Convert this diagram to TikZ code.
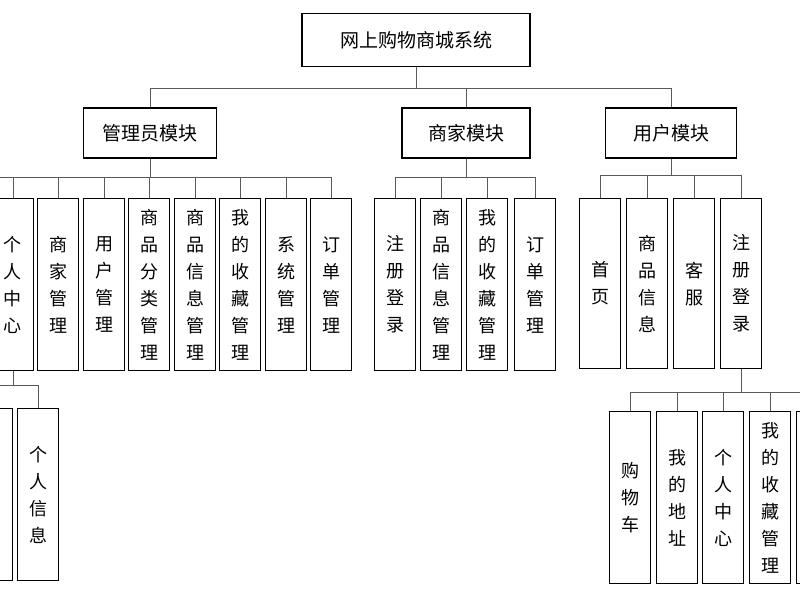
\documentclass[tikz,border=0pt]{standalone}
\usepackage{fontspec}
\newfontfamily\cjk{Noto Sans CJK SC}
\usetikzlibrary{positioning}
\begin{document}
\begin{tikzpicture}[x=1pt, y=-1pt,
    top/.style={rectangle, draw, line width=1.2pt, minimum width=130pt, minimum height=50pt, font=\cjk\fontsize{19}{22}\selectfont},
    leaf/.style={rectangle, draw, line width=1.2pt, minimum width=41pt, minimum height=172pt, anchor=north, align=center, font=\cjk\fontsize{18}{27}\selectfont},
    link/.style={draw=gray!70!black, line width=0.9pt}
]
\useasboundingbox (0,0) rectangle (800,600);
\begin{scope}
\clip (0,0) rectangle (800,600);

% Root and modules
\node[top, minimum width=228pt, minimum height=53pt] (root) at (416,40) {网上购物商城系统};
\node[top, minimum width=133pt] (admin) at (150,133) {管理员模块};
\node[top, minimum width=128pt] (shop) at (466,133) {商家模块};
\node[top, minimum width=131pt] (user) at (671,133) {用户模块};

\draw[link] (root) -- (416,88) coordinate (b0);
\draw[link] (150,88) -- (672,88);
\foreach \m/\x in {admin/150, shop/466, user/671}
  \draw[link] (\x,88) -- (\m);

% Admin leaves
\foreach \n/\x/\t in {a1/13/个\\人\\中\\心, a2/58/商\\家\\管\\理, a3/104/用\\户\\管\\理,
    a4/149/商\\品\\分\\类\\管\\理, a5/195/商\\品\\信\\息\\管\\理, a6/240/我\\的\\收\\藏\\管\\理,
    a7/286/系\\统\\管\\理, a8/331/订\\单\\管\\理}
  \node[leaf] (\n) at (\x,198) {\t};
\draw[link] (admin) -- (150,177);
\draw[link] (-10,177) -- (331,177);
\foreach \n/\x in {a1/13, a2/58, a3/104, a4/149, a5/195, a6/240, a7/286, a8/331}
  \draw[link] (\x,177) -- (\n);

% Shop leaves
\foreach \n/\x/\t in {s1/395/注\\册\\登\\录, s2/441/商\\品\\信\\息\\管\\理,
    s3/487/我\\的\\收\\藏\\管\\理, s4/535/订\\单\\管\\理}
  \node[leaf] (\n) at (\x,198) {\t};
\draw[link] (shop) -- (466,177);
\draw[link] (395,177) -- (535,177);
\foreach \n/\x in {s1/395, s2/441, s3/487, s4/535}
  \draw[link] (\x,177) -- (\n);

% User leaves
\foreach \n/\x/\t in {u1/600/首\\页, u2/647/商\\品\\信\\息, u3/694/客\\服, u4/741/注\\册\\登\\录}
  \node[leaf, minimum height=170pt] (\n) at (\x,198) {\t};
\draw[link] (user) -- (671,175);
\draw[link] (600,175) -- (741,175);
\foreach \n/\x in {u1/600, u2/647, u3/694, u4/741}
  \draw[link] (\x,175) -- (\n);

% Personal centre leaves
\node[leaf] (p1) at (-8,408) {};
\node[leaf] (p2) at (38,408) {个\\人\\信\\息};
\draw[link] (a1) -- (13,385);
\draw[link] (-8,385) -- (38,385);
\foreach \n/\x in {p1/-8, p2/38}
  \draw[link] (\x,385) -- (\n);

% Login leaves
\foreach \n/\x/\t in {r1/630/购\\物\\车, r2/677/我\\的\\地\\址, r3/723/个\\人\\中\\心,
    r4/770/我\\的\\收\\藏\\管\\理, r5/817/{}}
  \node[leaf] (\n) at (\x,411) {\t};
\draw[link] (u4) -- (741,392);
\draw[link] (630,392) -- (817,392);
\foreach \n/\x in {r1/630, r2/677, r3/723, r4/770, r5/817}
  \draw[link] (\x,392) -- (\n);
\end{scope}
\end{tikzpicture}
\end{document}
